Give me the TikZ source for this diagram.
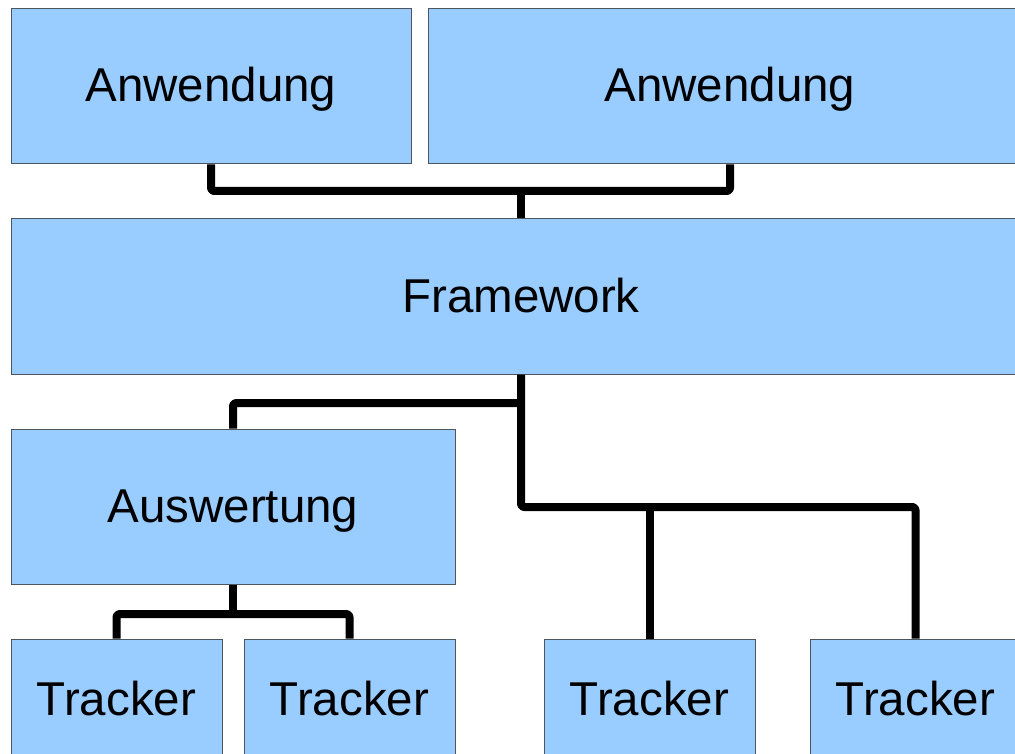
\documentclass[tikz,border=0pt]{standalone}
\usepackage{fontspec}
\setmainfont{Liberation Sans}
\definecolor{boxfill}{HTML}{99CCFF}
\definecolor{boxline}{HTML}{4A5560}
\begin{document}
\begin{tikzpicture}[x=1pt,y=-1pt,
  block/.style={draw=boxline, line width=1pt, fill=boxfill, rectangle,
    minimum height=155pt, inner sep=0pt, text height=40pt, text depth=9pt,
    font=\fontsize{47.5}{57}\selectfont},
  link/.style={line width=8pt, rounded corners=3pt, line join=round, draw=black}]
\useasboundingbox (0,0) rectangle (1015,754);
\clip (0,0) rectangle (1015,754);
% upper row
\node[block, minimum width=400pt] (app1) at (211,86.5) {Anwendung};
\node[block, minimum width=604pt] (app2) at (730,86.5) {Anwendung};
% framework layer
\node[block, minimum width=1020pt] (fw) at (521,296.5) {Framework};
% evaluation
\node[block, minimum width=444pt] (eval) at (233,506.5) {Auswertung};
% trackers
\tikzset{tracker/.style={block, minimum width=211pt, minimum height=121pt}}
\node[tracker] (tr1) at (116.5,699.5) {Tracker};
\node[tracker] (tr2) at (349.5,699.5) {Tracker};
\node[tracker] (tr3) at (649.5,699.5) {Tracker};
\node[tracker] (tr4) at (915.5,699.5) {Tracker};
% junction points
\coordinate (jtop) at (fw.north |- 0,191);
\coordinate (jeval) at (fw.south |- 0,403);
\coordinate (jtr3) at (tr3.north |- 0,507);
\coordinate (jlow) at (eval.south |- 0,614);
% connectors
\draw[link] (app1.south) |- (jtop) -| (app2.south);
\draw[link] (jtop) -- (fw.north);
\draw[link] (eval.north) |- (jeval);
\draw[link] (fw.south) |- (jtr3) -| (tr4.north);
\draw[link] (jtr3) -- (tr3.north);
\draw[link] (tr1.north) |- (jlow) -| (tr2.north);
\draw[link] (eval.south) -- (jlow);
\end{tikzpicture}
\end{document}
